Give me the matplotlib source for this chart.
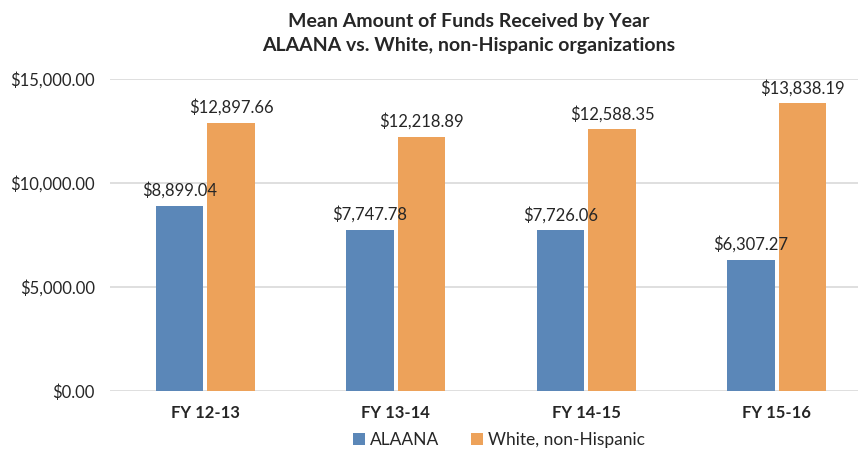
import matplotlib.pyplot as plt
import numpy as np

# Mean funds received per year, ALAANA vs White non-Hispanic orgs
years = ['FY 12-13', 'FY 13-14', 'FY 14-15', 'FY 15-16']
alaana = [8899.04, 7747.78, 7726.06, 6307.27]
white = [12897.66, 12218.89, 12588.35, 13838.19]
yticks = [0, 5000, 10000, 15000]

plt.rcParams['font.family'] = ['Lato', 'DejaVu Sans']

BLUE = '#5B87B8'
ORANGE = '#EDA25A'
TEXT = '#262626'


def money(v):
    return '${:,.2f}'.format(v)


def main() -> None:
    fig = plt.figure(figsize=(8.62, 4.59), dpi=100)
    ax = fig.add_axes([110 / 862, 68 / 459, 748 / 862, 312 / 459])

    x = np.arange(len(years))
    w = 0.25
    off = 0.135
    b1 = ax.bar(x - off, alaana, w, color=BLUE, label='ALAANA', zorder=3)
    b2 = ax.bar(x + off, white, w, color=ORANGE, label='White, non-Hispanic', zorder=3)

    for bars, vals in ((b1, alaana), (b2, white)):
        for b, v in zip(bars, vals):
            ax.annotate(money(v), (b.get_x() + b.get_width() / 2, v),
                        xytext=(0, 5), textcoords='offset points',
                        ha='center', va='bottom', fontsize=12, color=TEXT)

    ax.set_ylim(0, 15000)
    ax.set_xlim(-0.5, -0.5 + 748 / 190.5)
    ax.set_yticks(yticks)
    ax.set_yticklabels([money(v) for v in yticks], fontsize=12, color=TEXT)
    ax.set_xticks(x)
    ax.set_xticklabels(years, fontsize=12, fontweight='bold', color=TEXT)
    ax.tick_params(length=0)
    ax.tick_params(axis='y', pad=11)
    ax.tick_params(axis='x', pad=10)
    ax.yaxis.grid(True, color='#D9D9D9', linewidth=1.2, zorder=0)
    for s in ax.spines.values():
        s.set_visible(False)

    fig.text(469 / 862, 1 - 22 / 459, 'Mean Amount of Funds Received by Year',
             ha='center', va='center', fontsize=14, fontweight='bold', color=TEXT)
    fig.text(469 / 862, 1 - 46 / 459, 'ALAANA vs. White, non-Hispanic organizations',
             ha='center', va='center', fontsize=14, fontweight='bold', color=TEXT)

    fig.legend(loc='center', bbox_to_anchor=(499 / 862, 1 - 440 / 459), ncol=2,
               frameon=False, fontsize=12.5, handlelength=0.7, handleheight=0.7,
               handletextpad=0.3, columnspacing=1.8, labelcolor=TEXT)

    fig.savefig('out.png', dpi=100)


if __name__ == '__main__':
    main()
